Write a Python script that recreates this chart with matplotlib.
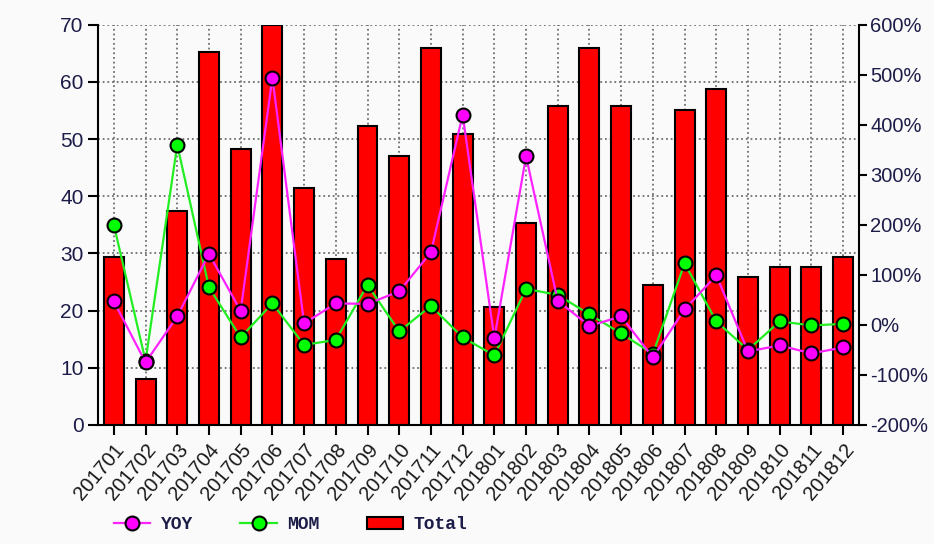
import matplotlib.pyplot as plt
import numpy as np
from matplotlib.patches import Patch
from matplotlib.lines import Line2D
from matplotlib.ticker import FuncFormatter

# Data
months = [
    "201701", "201702", "201703", "201704", "201705", "201706",
    "201707", "201708", "201709", "201710", "201711", "201712",
    "201801", "201802", "201803", "201804", "201805", "201806",
    "201807", "201808", "201809", "201810", "201811", "201812",
]
total = [29.4, 8.0, 37.4, 65.3, 48.3, 70.0, 41.5, 29.0, 52.2, 47.1, 66.0, 50.9,
         20.6, 35.3, 55.8, 66.0, 55.8, 24.5, 55.0, 58.8, 25.8, 27.6, 27.6, 29.3]
yoy = [47, -75, 17, 142, 28, 494, 3, 43, 42, 67, 145, 420,
       -27, 337, 48, -2, 17, -65, 31, 99, -53, -41, -57, -45]
mom = [200, -72, 360, 75, -25, 43, -40, -30, 80, -13, 38, -25,
       -61, 72, 60, 21, -17, -58, 123, 7, -50, 7, -1, 2]

text_col = "#1c1c48"
bg = "#fafafa"

plt.rcParams["font.family"] = ["Liberation Sans", "DejaVu Sans"]

fig = plt.figure(figsize=(9.34, 5.44), dpi=100, facecolor=bg)
ax = fig.add_axes([0.1049, 0.2188, 0.8148, 0.7358])
ax.set_facecolor(bg)
x = np.arange(len(months))

ax.bar(x, total, width=0.63, color="#ff0000", edgecolor="black",
       linewidth=1.5, zorder=2)
ax.set_xlim(-0.5, len(months) - 0.5)
ax.set_ylim(0, 70)
ax.set_yticks(np.arange(0, 71, 10))
ax.set_xticks(x)
ax.set_xticklabels(months, rotation=50, ha="right", va="top",
                   rotation_mode="anchor", fontsize=14.5, color="#181818")
ax.set_axisbelow(True)
ax.grid(True, color="#707070", linestyle=(0, (1, 1.6)), linewidth=1.3)
ax.tick_params(axis="y", labelsize=15, labelcolor=text_col, length=7,
               width=1.5, direction="out")
ax.tick_params(axis="x", length=7, width=1.5, direction="out", pad=4)
for s in ["top", "right"]:
    ax.spines[s].set_visible(False)
for s in ["left", "bottom"]:
    ax.spines[s].set_linewidth(1.5)

ax2 = ax.twinx()
ax2.set_ylim(-200, 600)
ax2.set_yticks(np.arange(-200, 601, 100))
ax2.yaxis.set_major_formatter(FuncFormatter(lambda v, p: f"{v:.0f}%"))
ax2.plot(x, mom, color="#22ee22", linewidth=1.6, marker="o", markersize=10,
         markerfacecolor="#00ff00", markeredgecolor="black",
         markeredgewidth=1.5, zorder=3)
ax2.plot(x, yoy, color="#ff22ff", linewidth=1.6, marker="o", markersize=10,
         markerfacecolor="#ff00ff", markeredgecolor="black",
         markeredgewidth=1.5, zorder=4)
ax2.tick_params(axis="y", labelsize=14.5, labelcolor=text_col, length=6,
                width=1.5, direction="out", pad=2)
for s in ["top", "left", "bottom"]:
    ax2.spines[s].set_visible(False)
ax2.spines["right"].set_linewidth(1.5)

handles = [
    Line2D([], [], color="#ff22ff", linewidth=1.6, marker="o", markersize=10,
           markerfacecolor="#ff00ff", markeredgecolor="black",
           markeredgewidth=1.5),
    Line2D([], [], color="#22ee22", linewidth=1.6, marker="o", markersize=10,
           markerfacecolor="#00ff00", markeredgecolor="black",
           markeredgewidth=1.5),
    Patch(facecolor="#ff0000", edgecolor="black", linewidth=1.5),
]
leg = fig.legend(handles, ["YOY", "MOM", "Total"], loc="center left",
                 bbox_to_anchor=(0.105, 0.035), ncol=3, frameon=False,
                 prop={"family": "Liberation Mono", "weight": "bold",
                       "size": 13},
                 handlelength=2.0, handletextpad=0.6, columnspacing=2.6)
for t in leg.get_texts():
    t.set_color(text_col)

fig.savefig("out.png", dpi=100, facecolor=bg)
